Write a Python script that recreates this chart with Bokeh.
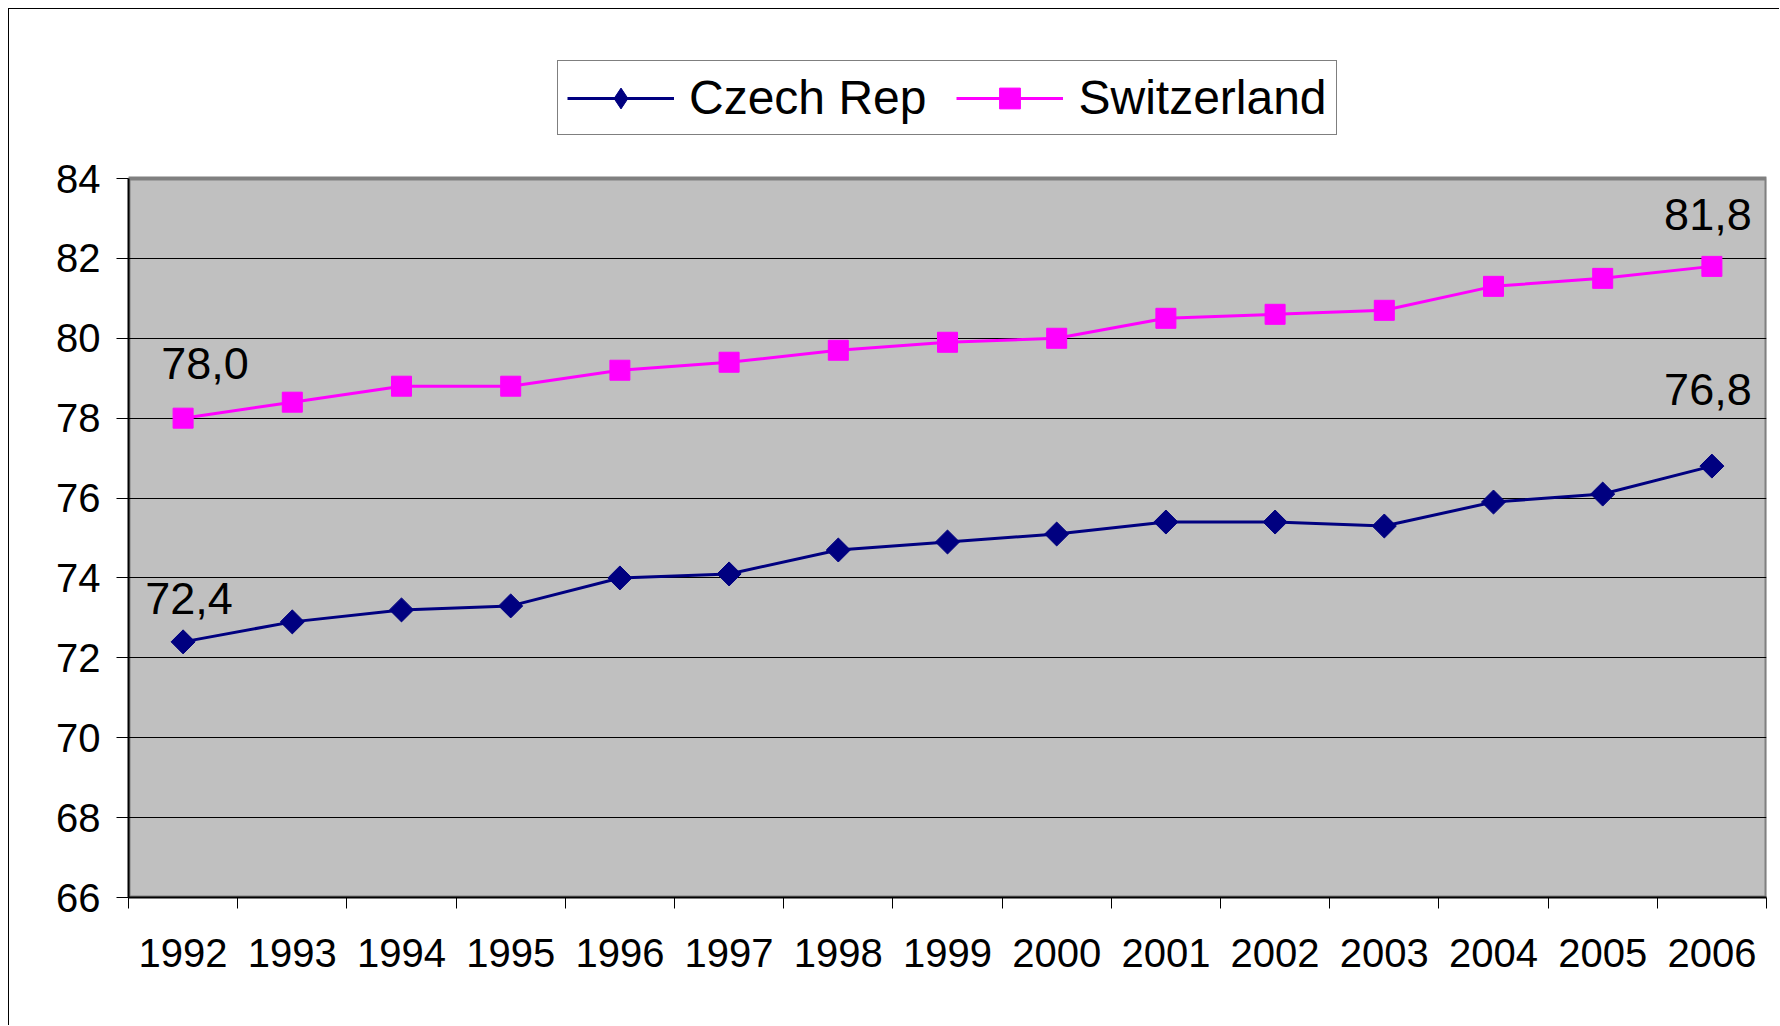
from bokeh.plotting import figure
from bokeh.models import ColumnDataSource, FixedTicker, Legend, LegendItem, Range1d
from bokeh.core.properties import value
from bokeh.embed import file_html
from bokeh.resources import INLINE
import math

years = ["1992", "1993", "1994", "1995", "1996", "1997", "1998", "1999",
         "2000", "2001", "2002", "2003", "2004", "2005", "2006"]
czech = [72.4, 72.9, 73.2, 73.3, 74.0, 74.1, 74.7, 74.9, 75.1, 75.4, 75.4, 75.3, 75.9, 76.1, 76.8]
swiss = [78.0, 78.4, 78.8, 78.8, 79.2, 79.4, 79.7, 79.9, 80.0, 80.5, 80.6, 80.7, 81.3, 81.5, 81.8]
y_ticks = [66, 68, 70, 72, 74, 76, 78, 80, 82, 84]

FONT = "Liberation Sans"
xs = [i + 0.5 for i in range(len(years))]

# layout: the frame also holds the legend strip above the grey plot area
FRAME_H = 857
AREA_H = 719
y_lo, y_hi = y_ticks[0], y_ticks[-1]
y_top = y_hi + (FRAME_H - AREA_H) * (y_hi - y_lo) / AREA_H

p = figure(width=1770, height=1016, output_backend="svg", toolbar_location=None,
           x_range=Range1d(0, len(years)), y_range=Range1d(y_lo, y_top),
           frame_width=1638, frame_height=FRAME_H,
           min_border_left=119, min_border_right=13, min_border_top=31, min_border_bottom=128)
p.styles = {"margin-left": "8px", "margin-top": "8px",
            "border-left": "1px solid #000000", "border-top": "1px solid #000000"}
p.background_fill_color = "white"
p.border_fill_color = "white"
p.outline_line_color = None

# grey plot area
area = p.quad(left=[0], right=[len(years)], bottom=[y_lo], top=[y_hi],
              fill_color="#C0C0C0", line_color="#808080", line_width=4, level="image")

src_c = ColumnDataSource(dict(x=xs, y=czech))
src_s = ColumnDataSource(dict(x=xs, y=swiss))

lc = p.line("x", "y", source=src_c, line_color="#000080", line_width=3)
mc = p.scatter("x", "y", source=src_c, marker="square", size=17, angle=math.pi / 4,
               fill_color="#000080", line_color="#000080")
ls = p.line("x", "y", source=src_s, line_color="#FF00FF", line_width=3)
ms = p.scatter("x", "y", source=src_s, marker="square", size=20, fill_color="#FF00FF", line_color="#FF00FF")
# legend-only diamond glyph
leg_d = p.scatter(x=xs[:1], y=czech[:1], marker="diamond", fill_color="#000080",
                  line_color="#000080", visible=False)

def fmt(v):
    return f"{v:.1f}".replace(".", ",")

lab = ColumnDataSource(dict(
    x=[xs[0], xs[0], xs[-1], xs[-1]],
    y=[swiss[0], czech[0], swiss[-1], czech[-1]],
    t=[fmt(swiss[0]), fmt(czech[0]), fmt(swiss[-1]), fmt(czech[-1])],
    xo=[22, 6, -4, -4],
    yo=[-55, -43, -52, -77],
))
p.text("x", "y", text="t", x_offset="xo", y_offset="yo", source=lab,
       text_font=value(FONT), text_font_size="45px", text_color="black",
       text_align="center", text_baseline="middle")

xa = p.xaxis[0]
xa.ticker = FixedTicker(ticks=xs, minor_ticks=list(range(len(years) + 1)))
xa.major_label_overrides = {x: y for x, y in zip(xs, years)}
xa.major_tick_line_color = None
xa.minor_tick_in = 0
xa.minor_tick_out = 11
xa.minor_tick_line_color = "black"
xa.axis_line_color = "black"
xa.axis_line_width = 2
xa.major_label_text_font = FONT
xa.major_label_text_font_size = "40px"
xa.major_label_text_color = "black"
xa.major_label_standoff = 30

ya = p.yaxis[0]
ya.ticker = FixedTicker(ticks=y_ticks)
ya.bounds = (y_lo, y_hi)
ya.major_tick_in = 0
ya.major_tick_out = 12
ya.minor_tick_line_color = None
ya.axis_line_color = "black"
ya.axis_line_width = 2
ya.major_label_text_font = FONT
ya.major_label_text_font_size = "40px"
ya.major_label_text_color = "black"
ya.major_label_standoff = 16

p.xgrid.grid_line_color = None
p.ygrid.ticker = FixedTicker(ticks=y_ticks[1:-1])
p.ygrid.grid_line_color = "black"
p.ygrid.grid_line_width = 1

legend = Legend(items=[LegendItem(label="Czech Rep", renderers=[lc, leg_d]),
                       LegendItem(label="Switzerland", renderers=[ls, ms])],
                orientation="horizontal", location=(429, 762),
                label_text_font=FONT, label_text_font_size="48px", label_text_color="black",
                glyph_width=107, glyph_height=52, label_standoff=15, spacing=30,
                padding=9, margin=0,
                border_line_color="black", border_line_width=1,
                background_fill_color="white", background_fill_alpha=1)
p.add_layout(legend, "center")

open("out.html", "w").write(file_html(p, INLINE))
